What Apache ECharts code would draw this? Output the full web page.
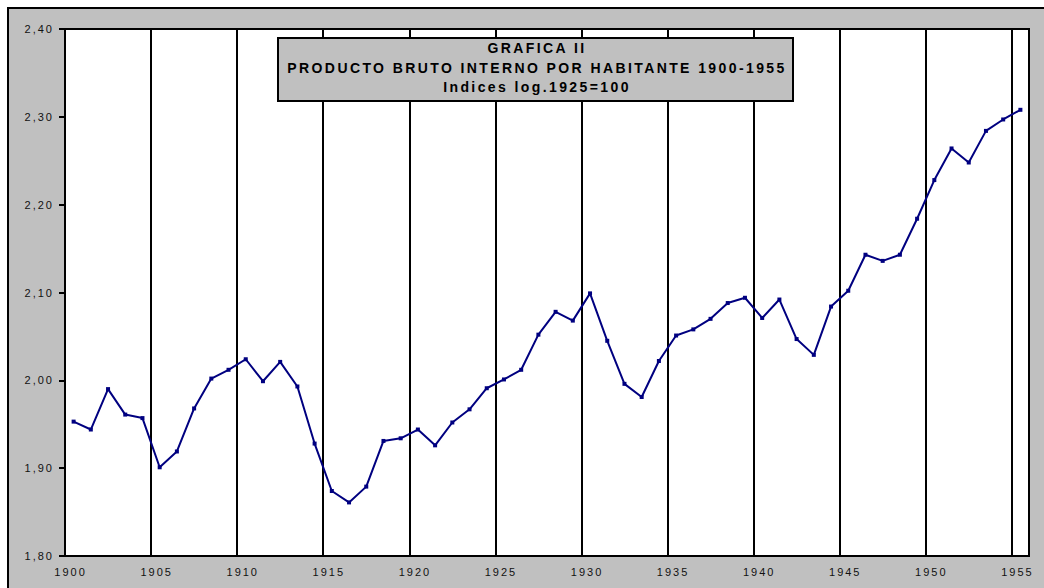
<!DOCTYPE html>
<html>
<head>
<meta charset="utf-8">
<script src="https://cdn.jsdelivr.net/npm/echarts@6/dist/echarts.min.js"></script>
<style>
  html, body { margin: 0; padding: 0; background: #fff; }
  #chart { width: 1044px; height: 588px; }
</style>
</head>
<body>
<div id="chart"></div>
<script>
// years shown on the category axis
const years = [
  '1900', '1901', '1902', '1903', '1904', '1905', '1906', '1907', '1908', '1909',
  '1910', '1911', '1912', '1913', '1914', '1915', '1916', '1917', '1918', '1919',
  '1920', '1921', '1922', '1923', '1924', '1925', '1926', '1927', '1928', '1929',
  '1930', '1931', '1932', '1933', '1934', '1935', '1936', '1937', '1938', '1939',
  '1940', '1941', '1942', '1943', '1944', '1945', '1946', '1947', '1948', '1949',
  '1950', '1951', '1952', '1953', '1954', '1955'
]

// log index of GDP per inhabitant
const pibValues = [
  1.953, 1.944, 1.990, 1.961, 1.957, 1.901, 1.919, 1.968, 2.002, 2.012,
  2.024, 1.999, 2.021, 1.993, 1.928, 1.874, 1.861, 1.879, 1.931, 1.934,
  1.944, 1.926, 1.952, 1.967, 1.991, 2.001, 2.012, 2.052, 2.078, 2.068,
  2.099, 2.045, 1.996, 1.981, 2.022, 2.051, 2.058, 2.070, 2.088, 2.094,
  2.071, 2.092, 2.047, 2.029, 2.084, 2.102, 2.143, 2.136, 2.143, 2.184,
  2.228, 2.264, 2.248, 2.284, 2.297, 2.308
]

const titleLines = [
  'GRAFICA II',
  'PRODUCTO BRUTO INTERNO POR HABITANTE 1900-1955',
  'Indices log.1925=100'
]

const chart = echarts.init(document.getElementById('chart'), null, { renderer: 'svg' })

const labelFont = {
  color: '#111',
  fontFamily: 'Arial, "Liberation Sans", sans-serif',
  fontSize: 11
}

const option = {
  animation: false,
  graphic: [
    {
      type: 'rect',
      z: -100,
      shape: { x: 8, y: 8, width: 1100, height: 700 },
      style: { fill: '#c0c0c0', stroke: '#000', lineWidth: 2 }
    },
    {
      type: 'rect',
      z: 100,
      shape: { x: 278, y: 38, width: 515, height: 63 },
      style: { fill: '#c0c0c0', stroke: '#000', lineWidth: 2 }
    },
    ...titleLines.map((t, i) => ({
      type: 'text',
      z: 101,
      x: 537,
      y: 48 + i * 19.5,
      style: {
        text: t,
        fill: '#000',
        font: 'bold 14px Arial, "Liberation Sans", sans-serif',
        textAlign: 'center',
        textVerticalAlign: 'middle'
      }
    }))
  ],
  grid: {
    left: 65,
    right: 15,
    top: 29,
    bottom: 32,
    show: true,
    backgroundColor: '#fff',
    borderColor: '#000',
    borderWidth: 2
  },
  xAxis: {
    type: 'category',
    data: years,
    boundaryGap: true,
    axisLine: { lineStyle: { color: '#000', width: 2 } },
    axisTick: { interval: 4, length: 5, lineStyle: { color: '#000', width: 2 } },
    axisLabel: { interval: 4, margin: 10, padding: [0, 6, 0, 0], ...labelFont },
    splitLine: { show: true, interval: 4, lineStyle: { color: '#000', width: 2 } }
  },
  yAxis: {
    type: 'value',
    min: 1.8,
    max: 2.4,
    interval: 0.1,
    axisLine: { show: true, lineStyle: { color: '#000', width: 2 } },
    axisTick: { show: true, length: 6, lineStyle: { color: '#000', width: 2 } },
    axisLabel: {
      margin: 11,
      formatter: v => v.toFixed(2).replace('.', ','),
      ...labelFont
    },
    splitLine: { show: false }
  },
  series: [
    {
      type: 'line',
      data: pibValues,
      color: '#000080',
      lineStyle: { color: '#000080', width: 2 },
      itemStyle: { color: '#000080' },
      symbol: 'rect',
      symbolSize: 4,
      showAllSymbol: true
    }
  ]
}

chart.setOption(option)

// the original uses spaced-out lettering; svg text takes css letter-spacing
function spaceLetters() {
  document.querySelectorAll('#chart text').forEach(el => {
    const bold = Number(getComputedStyle(el).fontWeight) >= 600
    el.style.letterSpacing = bold ? '2.4px' : '2px'
  })
}
chart.on('finished', spaceLetters)
spaceLetters()
</script>
</body>
</html>
